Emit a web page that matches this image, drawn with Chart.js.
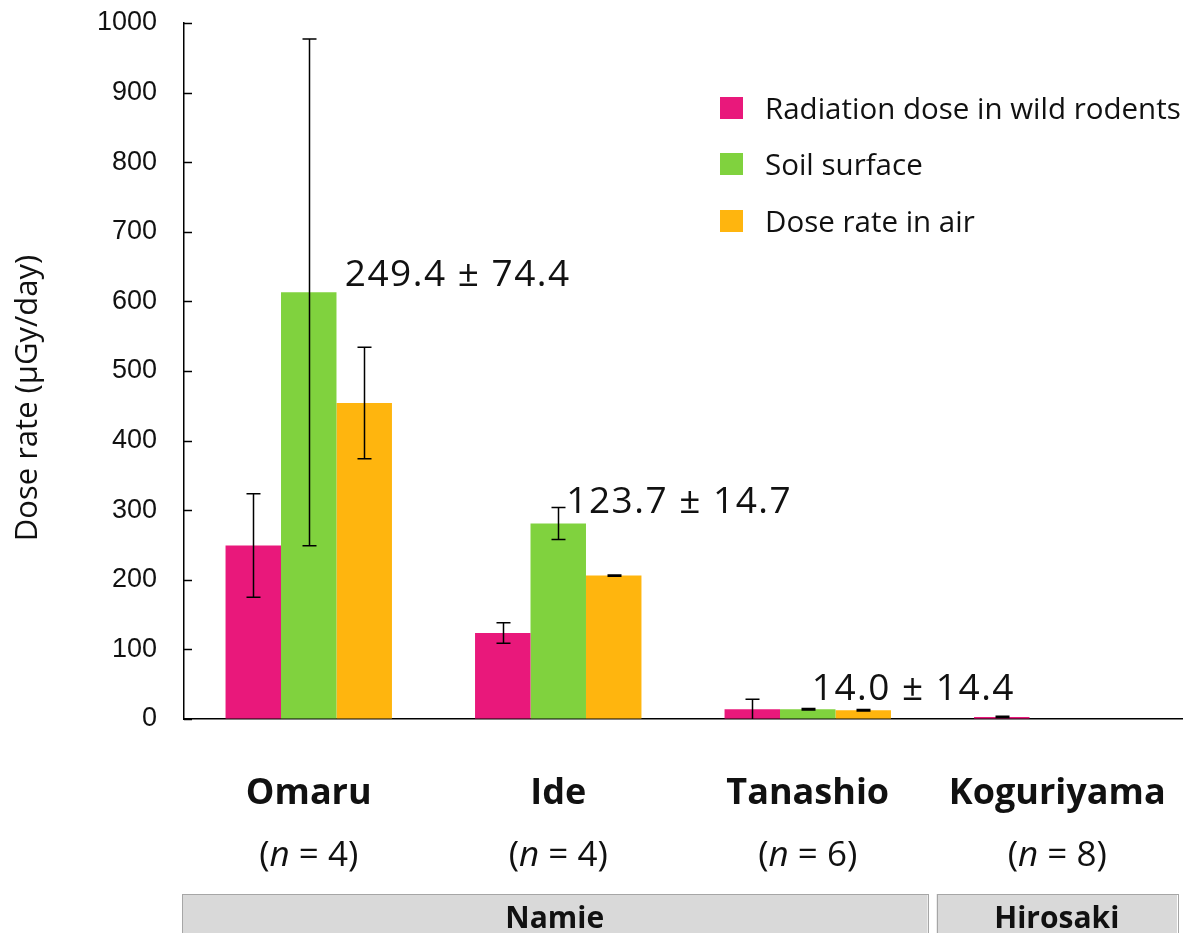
<!DOCTYPE html>
<html>
<head>
<meta charset="utf-8">
<title>Dose rate by site</title>
<script src="https://cdn.jsdelivr.net/npm/chart.js@4.4.1/dist/chart.umd.min.js"></script>
<style>
  html, body { margin: 0; padding: 0; background: #ffffff; }
  #wrap { width: 1187px; height: 933px; position: relative; }
</style>
</head>
<body>
<div id="wrap"><canvas id="chart"></canvas></div>
<script>
// Sites, sample sizes and the area each site belongs to
const categories = ['Omaru', 'Ide', 'Tanashio', 'Koguriyama'];
const sampleSizes = [4, 4, 6, 8];
const regionNames = ['Namie', 'Namie', 'Namie', 'Hirosaki'];

// Series names
const seriesNames = ['Radiation dose in wild rodents', 'Soil surface', 'Dose rate in air'];

// Mean dose rates (µGy/day) and their deviations
const rodentDose = [249.4, 123.7, 14.0, 3.0];
const rodentSD   = [74.4, 14.7, 14.4, 1.0];
const soilDose   = [613, 281, 14, 0];
const soilSD     = [364, 23, 1, 0];
const airDose    = [454, 206, 12.5, 0];
const airSD      = [80, 1, 1, 0];

// Y axis range
const yMin = 0;
const yMax = 1000;
const yStep = 100;

// Placement of the "mean ± SD" texts for the rodent series: [x offset from site centre in px, baseline in axis units]
const statLabelPlacement = [[36, 622], [8, 296], [4, 27]];

const seriesColors = ['#E9187B', '#80D23E', '#FFB50E'];
const errorSets = [rodentSD, soilSD, airSD];

const TEXT = '#111111';

const errorBarPlugin = {
  id: 'errorBars',
  afterDatasetsDraw(chart) {
    const ctx = chart.ctx;
    const y = chart.scales.y;
    ctx.save();
    ctx.strokeStyle = '#000000';
    ctx.lineWidth = 1.5;
    chart.data.datasets.forEach((ds, di) => {
      const meta = chart.getDatasetMeta(di);
      const errs = errorSets[di];
      meta.data.forEach((bar, i) => {
        const v = ds.data[i];
        const e = errs[i];
        if (!e) return;
        const yTop = y.getPixelForValue(v + e);
        const yBot = y.getPixelForValue(Math.max(v - e, yMin));
        const x = Math.round(bar.x) + 0.5;
        const cap = 7;
        ctx.beginPath();
        ctx.moveTo(x, yTop); ctx.lineTo(x, yBot);
        ctx.moveTo(x - cap, yTop); ctx.lineTo(x + cap, yTop);
        if (v - e > yMin) { ctx.moveTo(x - cap, yBot); ctx.lineTo(x + cap, yBot); }
        ctx.stroke();
      });
    });
    ctx.restore();
  }
};

const decorPlugin = {
  id: 'decor',
  afterDraw(chart) {
    const ctx = chart.ctx;
    const x = chart.scales.x;
    const y = chart.scales.y;
    const area = chart.chartArea;
    ctx.save();

    // inward tick marks on the value axis
    ctx.strokeStyle = '#000000';
    ctx.lineWidth = 1.5;
    y.ticks.forEach(t => {
      const py = Math.round(y.getPixelForValue(t.value)) + 0.5;
      ctx.beginPath();
      ctx.moveTo(area.left, py);
      ctx.lineTo(area.left + 8, py);
      ctx.stroke();
    });

    // axis title
    ctx.fillStyle = TEXT;
    ctx.font = '31px "Open Sans"';
    ctx.textAlign = 'center';
    ctx.textBaseline = 'alphabetic';
    ctx.save();
    ctx.translate(37, 398);
    ctx.rotate(-Math.PI / 2);
    ctx.fillText('Dose rate (\u03BCGy/day)', 0, 0);
    ctx.restore();

    // mean ± SD texts for rodent doses
    ctx.font = '37px "Open Sans"';
    ctx.textAlign = 'left';
    if ('letterSpacing' in ctx) ctx.letterSpacing = '1.5px';
    statLabelPlacement.forEach((p, i) => {
      const cx = x.getPixelForValue(i) + p[0];
      const by = y.getPixelForValue(p[1]);
      ctx.fillText(rodentDose[i].toFixed(1) + ' \u00B1 ' + rodentSD[i].toFixed(1), cx, by);
    });
    if ('letterSpacing' in ctx) ctx.letterSpacing = '0px';

    // site names and sample sizes
    const catW = x.getPixelForValue(1) - x.getPixelForValue(0);
    categories.forEach((c, i) => {
      const cx = x.getPixelForValue(i);
      ctx.textAlign = 'center';
      ctx.font = 'bold 36px "Open Sans"';
      ctx.fillText(c, cx, 804);
      // "(n = k)" with italic n
      const a = '(', b = ' = ' + sampleSizes[i] + ')';
      ctx.font = '35px "Open Sans"';
      const wa = ctx.measureText(a).width;
      const wb = ctx.measureText(b).width;
      ctx.font = 'italic 35px "Open Sans"';
      const wn = ctx.measureText('n').width;
      const sx = cx - (wa + wn + wb) / 2;
      ctx.textAlign = 'left';
      ctx.font = '35px "Open Sans"';
      ctx.fillText(a, sx, 866);
      ctx.font = 'italic 35px "Open Sans"';
      ctx.fillText('n', sx + wa, 866);
      ctx.font = '35px "Open Sans"';
      ctx.fillText(b, sx + wa + wn, 866);
    });

    // area boxes spanning their sites
    const groups = [];
    regionNames.forEach((r, i) => {
      const last = groups[groups.length - 1];
      if (last && last.name === r) last.to = i; else groups.push({ name: r, from: i, to: i });
    });
    groups.forEach((g, gi) => {
      const L = x.getPixelForValue(g.from) - catW / 2 + (gi === 0 ? -2 : 4);
      const R = x.getPixelForValue(g.to) + catW / 2 - 5;
      ctx.fillStyle = '#D9D9D9';
      ctx.fillRect(L, 894, R - L, 50);
      ctx.strokeStyle = '#A6A6A6';
      ctx.lineWidth = 1;
      ctx.strokeRect(Math.round(L) + 0.5, 894.5, Math.round(R - L), 50);
      ctx.fillStyle = TEXT;
      ctx.font = 'bold 30px "Open Sans"';
      ctx.textAlign = 'center';
      ctx.fillText(g.name, (L + R) / 2, 928);
    });

    // legend
    const legendRows = [97, 153, 210];
    seriesNames.forEach((n, i) => {
      ctx.fillStyle = seriesColors[i];
      ctx.fillRect(720, legendRows[i], 23, 22);
      ctx.fillStyle = TEXT;
      ctx.font = '29.5px "Open Sans"';
      ctx.textAlign = 'left';
      ctx.fillText(n, 765, legendRows[i] + 22);
    });

    ctx.restore();
  }
};

const datasets = [rodentDose, soilDose, airDose].map((d, i) => ({
  label: seriesNames[i],
  data: d,
  backgroundColor: seriesColors[i],
  borderWidth: 0,
  categoryPercentage: 0.667,
  barPercentage: 1.0
}));

new Chart(document.getElementById('chart'), {
  type: 'bar',
  data: { labels: categories, datasets },
  plugins: [errorBarPlugin, decorPlugin],
  options: {
    responsive: true,
    maintainAspectRatio: false,
    animation: false,
    layout: { padding: { top: 23, right: 5, left: 0, bottom: 0 } },
    plugins: { legend: { display: false }, tooltip: { enabled: false } },
    scales: {
      x: {
        grid: { display: false, drawTicks: false },
        border: { display: true, color: '#000000', width: 1.5 },
        ticks: { display: false },
        afterFit(scale) { scale.height = 933 - 719; }
      },
      y: {
        min: yMin,
        max: yMax,
        // outward tick space kept blank; the visible ticks point inward
        grid: { drawOnChartArea: false, drawTicks: true, tickLength: 27, tickColor: 'rgba(0,0,0,0)' },
        border: { display: true, color: '#000000', width: 1.5 },
        ticks: {
          stepSize: yStep,
          padding: 0,
          color: TEXT,
          font: { family: '"Liberation Sans", Arial, sans-serif', size: 27 },
          callback: (v) => String(v)
        },
        afterFit(scale) { scale.width = 184; }
      }
    }
  }
});
</script>
</body>
</html>
